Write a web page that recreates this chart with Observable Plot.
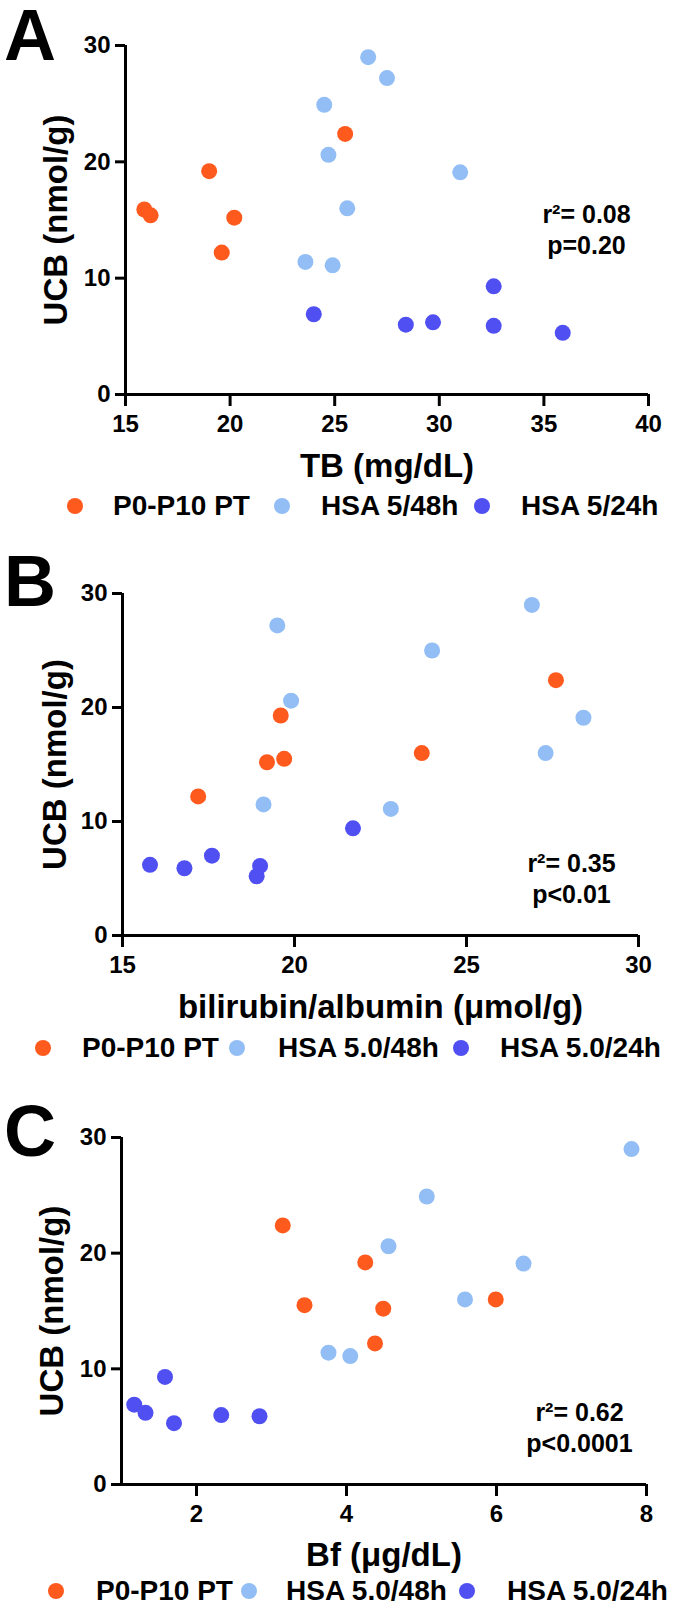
<!DOCTYPE html>
<html><head><meta charset="utf-8">
<script src="https://cdn.jsdelivr.net/npm/d3@7"></script>
<script src="https://cdn.jsdelivr.net/npm/@observablehq/plot@0.6"></script>
<style>
body{margin:0;background:#fff;}
#root{position:relative;width:675px;height:1608px;overflow:hidden;font-family:"Liberation Sans",Arial,sans-serif;font-weight:bold;color:#000;}
.fig{position:absolute;left:0;}
.letter{position:absolute;left:4px;font-size:72px;line-height:1;}
.leg{position:absolute;left:0;width:675px;height:0;}
.leg .dot{position:absolute;width:16px;height:16px;border-radius:50%;transform:translate(-50%,-50%);}
.leg .lab{position:absolute;font-size:28px;line-height:1;transform:translateY(-50%);white-space:nowrap;}
</style></head>
<body><div id="root"></div>
<script>
// ---------- data ----------
const groupsA = ["P0-P10 PT", "HSA 5/48h", "HSA 5/24h"];
const groupsBC = ["P0-P10 PT", "HSA 5.0/48h", "HSA 5.0/24h"];
const colors = ["#FF5A1E", "#92BEF5", "#4F4FF2"];
const yTicks = [0, 10, 20, 30];

// Panel A: TB (mg/dL) vs UCB (nmol/g)
const tbPT = [15.9, 16.2, 19.0, 20.2, 19.6, 25.5];
const ucbPT_A = [15.9, 15.4, 19.2, 15.2, 12.2, 22.4];
const tb48 = [26.6, 27.5, 24.5, 24.7, 31.0, 25.6, 23.6, 24.9];
const ucb48_A = [29.0, 27.2, 24.9, 20.6, 19.1, 16.0, 11.4, 11.1];
const tb24 = [24.0, 28.4, 29.7, 32.6, 32.6, 35.9];
const ucb24_A = [6.9, 6.0, 6.2, 9.3, 5.9, 5.3];
const xTicksA = [15, 20, 25, 30, 35, 40];

// Panel B: bilirubin/albumin (umol/g) vs UCB
const baPT = [17.2, 19.2, 19.7, 19.6, 23.7, 27.6];
const ucbPT_B = [12.2, 15.2, 15.5, 19.3, 16.0, 22.4];
const ba48 = [19.5, 19.9, 19.1, 22.8, 24.0, 26.9, 28.4, 27.3];
const ucb48_B = [27.2, 20.6, 11.5, 11.1, 25.0, 29.0, 19.1, 16.0];
const ba24 = [15.8, 16.8, 17.6, 18.9, 19.0, 21.7];
const ucb24_B = [6.2, 5.9, 7.0, 5.2, 6.1, 9.4];
const xTicksB = [15, 20, 25, 30];

// Panel C: Bf (ug/dL) vs UCB
const bfPT = [3.15, 4.25, 3.44, 4.49, 4.38, 5.99];
const ucbPT_C = [22.4, 19.2, 15.5, 15.2, 12.2, 16.0];
const bf48 = [7.8, 5.07, 4.56, 6.36, 5.58, 3.76, 4.05];
const ucb48_C = [29.0, 24.9, 20.6, 19.1, 16.0, 11.4, 11.1];
const bf24 = [1.17, 1.32, 1.58, 1.70, 2.33, 2.84];
const ucb24_C = [6.9, 6.2, 9.3, 5.3, 6.0, 5.9];
const xTicksC = [2, 4, 6, 8];

// ---------- layout ----------
const panels = [
  {letter: "A", letterTop: -1, top: 0, height: 490, mt: 45, mb: 96, ml: 125, mr: 27,
   xDomain: [15, 40], xTicks: xTicksA, xTitle: "TB (mg/dL)", groups: groupsA,
   xs: [tbPT, tb48, tb24], ys: [ucbPT_A, ucb48_A, ucb24_A],
   stat: "r²= 0.08\np=0.20", statDx: -62, statDy: -166, yTitleDx: -69, xTitleDy: 72,
   legY: 506, legDots: [75, 282, 482], legText: [113, 321, 521]},
  {letter: "B", letterTop: 545, top: 540, height: 490, mt: 53, mb: 95, ml: 122, mr: 37,
   xDomain: [15, 30], xTicks: xTicksB, xTitle: "bilirubin/albumin (\u03bcmol/g)", groups: groupsBC,
   xs: [baPT, ba48, ba24], ys: [ucbPT_B, ucb48_B, ucb24_B],
   stat: "r²= 0.35\np<0.01", statDx: -67, statDy: -58, yTitleDx: -67, xTitleDy: 72,
   legY: 1048, legDots: [43, 237, 461], legText: [82, 278, 500]},
  {letter: "C", letterTop: 1095, top: 1080, height: 500, mt: 57, mb: 96, ml: 121, mr: 29,
   xDomain: [1, 8], xTicks: xTicksC, xTitle: "Bf (\u03bcg/dL)", groups: groupsBC,
   xs: [bfPT, bf48, bf24], ys: [ucbPT_C, ucb48_C, ucb24_C],
   stat: "r²= 0.62\np<0.0001", statDx: -67, statDy: -58, yTitleDx: -69, xTitleDy: 71,
   legY: 1591, legDots: [56, 249, 467], legText: [96, 286, 507]}
];

const root = document.getElementById("root");

for (const p of panels) {
  const data = [];
  p.groups.forEach((g, gi) => p.xs[gi].forEach((x, i) => data.push({group: g, x, y: p.ys[gi][i]})));

  const chart = Plot.plot({
    width: 675, height: p.height,
    marginTop: p.mt, marginBottom: p.mb, marginLeft: p.ml, marginRight: p.mr,
    style: {fontFamily: "'Liberation Sans', Arial, sans-serif", fontWeight: "bold", color: "#000", background: "transparent", overflow: "visible"},
    x: {domain: p.xDomain},
    y: {domain: [0, 30]},
    color: {domain: p.groups, range: colors},
    marks: [
      Plot.axisX({ticks: p.xTicks, tickFormat: d3.format("d"), tickSize: 12, tickPadding: 8, strokeWidth: 3, fontSize: 24, fontWeight: "bold", label: null}),
      Plot.axisY({ticks: yTicks, tickFormat: d3.format("d"), tickSize: 10, tickPadding: 5, strokeWidth: 3, fontSize: 24, fontWeight: "bold", label: null}),
      Plot.ruleY([yTicks[0]], {strokeWidth: 3}),
      Plot.ruleX([p.xDomain[0]], {strokeWidth: 3}),
      Plot.dot(data, {x: "x", y: "y", fill: "group", r: 8}),
      Plot.text([p.xTitle], {text: d => d, frameAnchor: "bottom", dy: p.xTitleDy, fontSize: 33, fontWeight: "bold", lineAnchor: "middle", textAnchor: "middle"}),
      Plot.text(["UCB (nmol/g)"], {text: d => d, frameAnchor: "left", rotate: -90, dx: p.yTitleDx, fontSize: 33, fontWeight: "bold", lineAnchor: "middle", textAnchor: "middle"}),
      Plot.text([p.stat], {text: d => d, frameAnchor: "bottom-right", dx: p.statDx, dy: p.statDy, fontSize: 25, fontWeight: "bold", lineHeight: 1.26, lineAnchor: "middle", textAnchor: "middle"})
    ]
  });
  const wrap = document.createElement("div");
  wrap.className = "fig";
  wrap.style.top = p.top + "px";
  wrap.appendChild(chart);
  root.appendChild(wrap);

  const letter = document.createElement("div");
  letter.className = "letter";
  letter.style.top = p.letterTop + "px";
  letter.textContent = p.letter;
  root.appendChild(letter);

  const leg = document.createElement("div");
  leg.className = "leg";
  leg.style.top = p.legY + "px";
  p.groups.forEach((g, i) => {
    const d = document.createElement("span");
    d.className = "dot";
    d.style.left = p.legDots[i] + "px";
    d.style.background = colors[i];
    leg.appendChild(d);
    const t = document.createElement("span");
    t.className = "lab";
    t.style.left = p.legText[i] + "px";
    t.textContent = g;
    leg.appendChild(t);
  });
  root.appendChild(leg);
}
</script></body></html>
